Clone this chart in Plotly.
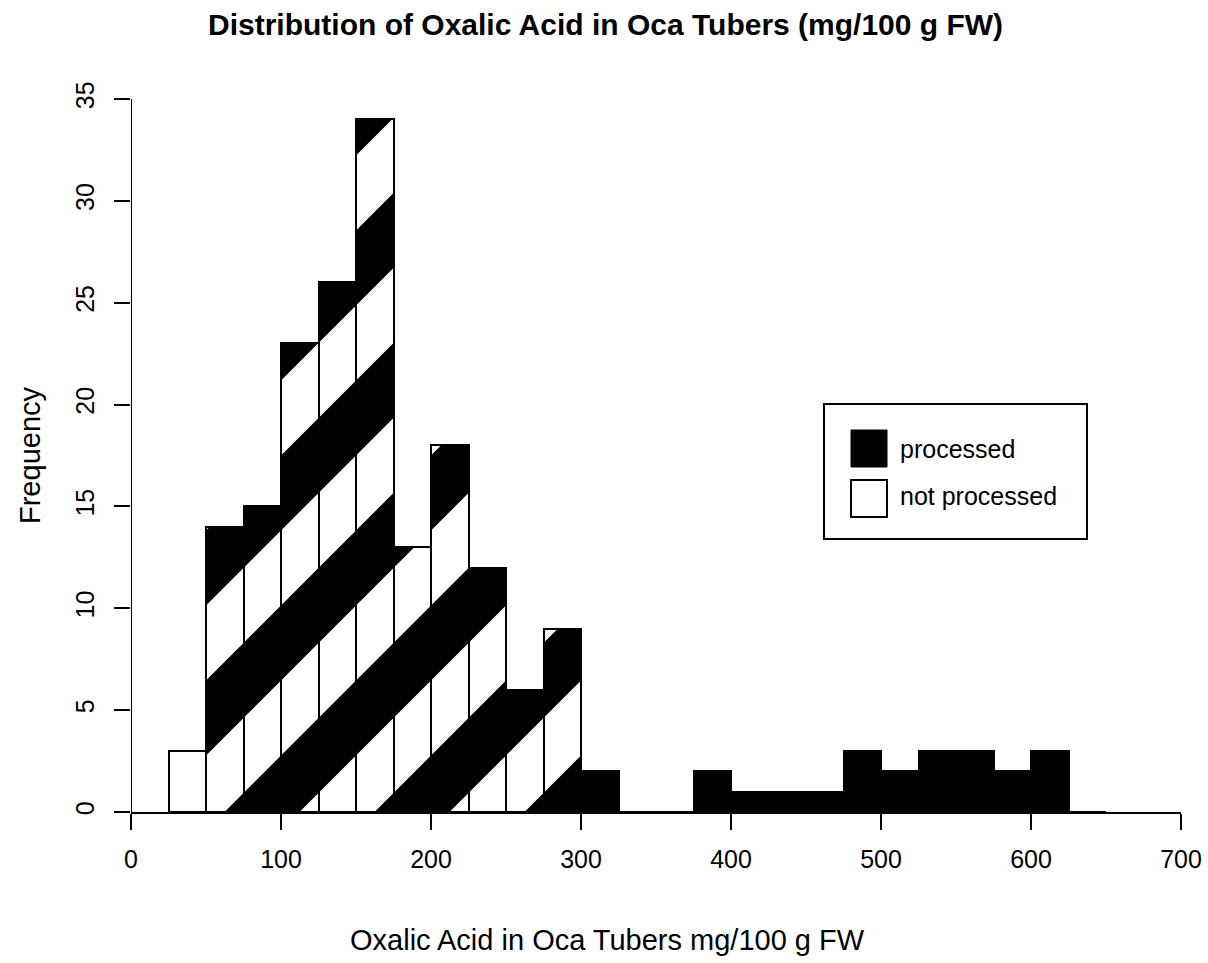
import plotly.graph_objects as go

# ---- data ----
BIN_WIDTH = 25
np_left = [25, 50, 75, 100, 125, 150, 175, 200, 225, 250, 275]          # not processed
np_counts = [3, 14, 15, 23, 26, 34, 13, 18, 12, 6, 9]
p_left = [300, 325, 350, 375, 400, 425, 450, 475, 500, 525, 550, 575, 600, 625]  # processed
p_counts = [2, 0, 0, 2, 1, 1, 1, 3, 2, 3, 3, 2, 3, 0]
x_ticks = [0, 100, 200, 300, 400, 500, 600, 700]
y_ticks = [0, 5, 10, 15, 20, 25, 30, 35]

TITLE = "Distribution of Oxalic Acid in Oca Tubers (mg/100 g FW)"
XLAB = "Oxalic Acid in Oca Tubers mg/100 g FW"
YLAB = "Frequency"
LEG = ["processed", "not processed"]

# styling: hatch shape per not-processed bar (first bin drawn plain white)
np_hatch = ["", "/", "/", "/", "/", "/", "/", "/", "/", "/", "/"]

# ---- layout geometry ----
W, H = 1208, 963
L, R, T, B = 131, 27, 43, 151
PW, PH = W - L - R, H - T - B
y_top_px = 99  # pixel row of the highest y tick
y_max = y_ticks[-1] * PH / (H - B - y_top_px)
FONT = "Liberation Sans, Arial, Helvetica, sans-serif"


def px(X):
    return (X - L) / PW


def py(Y):
    return (H - B - Y) / PH


np_mid = [v + BIN_WIDTH / 2 for v in np_left]
p_mid = [v + BIN_WIDTH / 2 for v in p_left]

fig = go.Figure()
fig.add_trace(go.Bar(
    x=np_mid, y=np_counts, width=[BIN_WIDTH] * len(np_mid), name=LEG[1],
    marker=dict(color="white", line=dict(color="black", width=2),
                pattern=dict(shape=np_hatch, size=150 / 2 ** 0.5, solidity=0.5,
                             fgcolor="black", fgopacity=1, bgcolor="white",
                             fillmode="replace")),
    showlegend=False,
))
fig.add_trace(go.Bar(
    x=p_mid, y=p_counts, width=[BIN_WIDTH] * len(p_mid), name=LEG[0],
    marker=dict(color="black", line=dict(color="black", width=2)),
    showlegend=False,
))

axis_common = dict(ticks="outside", ticklen=16, tickwidth=2, tickcolor="black",
                   showgrid=False, zeroline=False,
                   tickfont=dict(family=FONT, size=25, color="black"))

fig.update_layout(
    width=W, height=H, margin=dict(l=L, r=R, t=T, b=B, autoexpand=False),
    paper_bgcolor="white", plot_bgcolor="white",
    barmode="overlay", bargap=0,
    xaxis=dict(range=[x_ticks[0], x_ticks[-1]], tickvals=x_ticks, showline=True,
               linecolor="black", linewidth=2, ticklabelstandoff=8, **axis_common),
    yaxis=dict(range=[0, y_max], tickvals=y_ticks, showline=False, tickangle=-90,
               ticklabelstandoff=10, **axis_common),
    shapes=[
        # y axis line (only over the tick range, R style)
        dict(type="line", xref="x", yref="y", x0=x_ticks[0], x1=x_ticks[0],
             y0=y_ticks[0], y1=y_ticks[-1], line=dict(color="black", width=2)),
        # legend box and keys
        dict(type="rect", xref="paper", yref="paper", x0=px(824), x1=px(1087),
             y0=py(539), y1=py(404), line=dict(color="black", width=2), fillcolor="white"),
        dict(type="rect", xref="paper", yref="paper", x0=px(851), x1=px(887),
             y0=py(467), y1=py(430), line=dict(color="black", width=1), fillcolor="black"),
        dict(type="rect", xref="paper", yref="paper", x0=px(851), x1=px(887),
             y0=py(517), y1=py(480), line=dict(color="black", width=2), fillcolor="white"),
    ],
    annotations=[
        dict(text="<b>" + TITLE + "</b>", xref="paper", yref="paper", x=px(605), y=py(24),
             xanchor="center", yanchor="middle", showarrow=False,
             font=dict(family=FONT, size=30, color="black")),
        dict(text=XLAB, xref="paper", yref="paper", x=px(607), y=py(940),
             xanchor="center", yanchor="middle", showarrow=False,
             font=dict(family=FONT, size=29, color="black")),
        dict(text=YLAB, xref="paper", yref="paper", x=px(30), y=py(455), textangle=-90,
             xanchor="center", yanchor="middle", showarrow=False,
             font=dict(family=FONT, size=29, color="black")),
        dict(text=LEG[0], xref="paper", yref="paper", x=px(898), y=py(449),
             xanchor="left", yanchor="middle", showarrow=False,
             font=dict(family=FONT, size=25, color="black")),
        dict(text=LEG[1], xref="paper", yref="paper", x=px(898), y=py(496),
             xanchor="left", yanchor="middle", showarrow=False,
             font=dict(family=FONT, size=25, color="black")),
    ],
)

fig.write_html("out.html")
